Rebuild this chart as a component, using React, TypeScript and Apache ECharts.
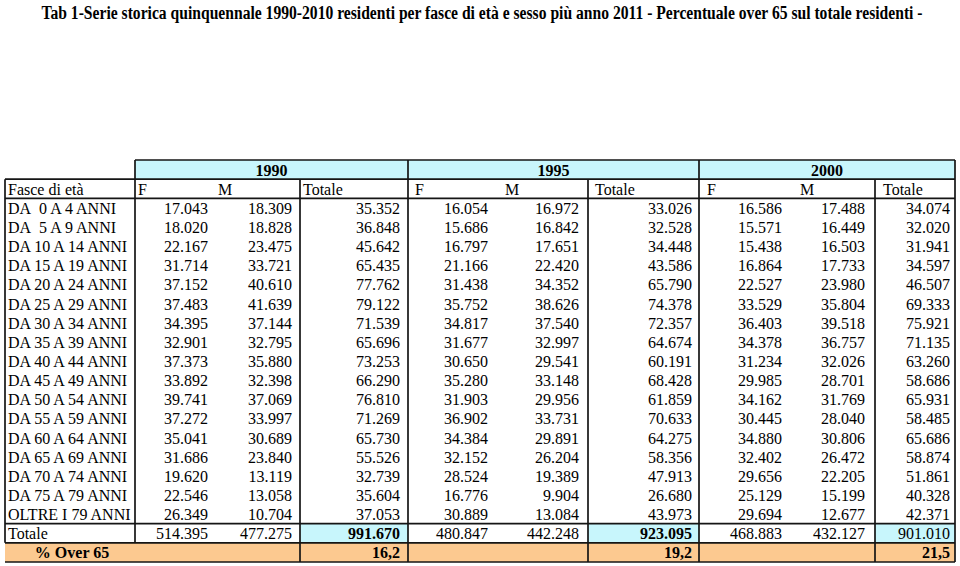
import React, { useEffect, useRef } from "react";
import * as echarts from "echarts";

// ---------- DATA ----------
const TITLE =
  "Tab 1-Serie storica quinquennale 1990-2010 residenti per fasce di età e sesso più anno 2011 - Percentuale over 65 sul totale residenti -";
const years = ["1990", "1995", "2000"];
const subHeaders = ["F", "M", "Totale"];
const firstHeader = "Fasce di età";
const ageGroups = [
  "DA\u00a0 0 A 4 ANNI",
  "DA\u00a0 5 A 9 ANNI",
  "DA 10 A 14 ANNI",
  "DA 15 A 19 ANNI",
  "DA 20 A 24 ANNI",
  "DA 25 A 29 ANNI",
  "DA 30 A 34 ANNI",
  "DA 35 A 39 ANNI",
  "DA 40 A 44 ANNI",
  "DA 45 A 49 ANNI",
  "DA 50 A 54 ANNI",
  "DA 55 A 59 ANNI",
  "DA 60 A 64 ANNI",
  "DA 65 A 69 ANNI",
  "DA 70 A 74 ANNI",
  "DA 75 A 79 ANNI",
  "OLTRE I 79 ANNI",
];
const f1990 = [17043, 18020, 22167, 31714, 37152, 37483, 34395, 32901, 37373, 33892, 39741, 37272, 35041, 31686, 19620, 22546, 26349];
const m1990 = [18309, 18828, 23475, 33721, 40610, 41639, 37144, 32795, 35880, 32398, 37069, 33997, 30689, 23840, 13119, 13058, 10704];
const t1990 = [35352, 36848, 45642, 65435, 77762, 79122, 71539, 65696, 73253, 66290, 76810, 71269, 65730, 55526, 32739, 35604, 37053];
const f1995 = [16054, 15686, 16797, 21166, 31438, 35752, 34817, 31677, 30650, 35280, 31903, 36902, 34384, 32152, 28524, 16776, 30889];
const m1995 = [16972, 16842, 17651, 22420, 34352, 38626, 37540, 32997, 29541, 33148, 29956, 33731, 29891, 26204, 19389, 9904, 13084];
const t1995 = [33026, 32528, 34448, 43586, 65790, 74378, 72357, 64674, 60191, 68428, 61859, 70633, 64275, 58356, 47913, 26680, 43973];
const f2000 = [16586, 15571, 15438, 16864, 22527, 33529, 36403, 34378, 31234, 29985, 34162, 30445, 34880, 32402, 29656, 25129, 29694];
const m2000 = [17488, 16449, 16503, 17733, 23980, 35804, 39518, 36757, 32026, 28701, 31769, 28040, 30806, 26472, 22205, 15199, 12677];
const t2000 = [34074, 32020, 31941, 34597, 46507, 69333, 75921, 71135, 63260, 58686, 65931, 58485, 65686, 58874, 51861, 40328, 42371];
const totalLabel = "Totale";
const totals = [514395, 477275, 991670, 480847, 442248, 923095, 468883, 432127, 901010];
const over65Label = "% Over 65";
const over65 = [16.2, 19.2, 21.5];

// ---------- LAYOUT ----------
const FONT = '"Liberation Serif", "Times New Roman", serif';
const FS = 16;
const CYAN = "#c8f6fc";
const ORANGE = "#fcc990";
const LINE = "#151515";
const X_MIN = 5;
const X_MAX = 955;
const groupEdges = [
  [135, 408],
  [408, 699],
  [699, 955],
];
const valueRight = [208, 292, 400, 488, 579, 692, 782, 865, 950];
const subHeaderX = [
  [138, "left"],
  [225, "center"],
  [303, "left"],
  [415, "left"],
  [512, "center"],
  [595, "left"],
  [707, "left"],
  [807, "center"],
  [883, "left"],
];
const N_ROWS = 21;

const fmtInt = (v: number) => {
  const s = String(Math.round(v));
  return s.replace(/\B(?=(\d{3})+(?!\d))/g, ".");
};
const fmtPct = (v: number) => v.toFixed(1).replace(".", ",");

type Cell = {
  x0: number;
  x1: number;
  r: number;
  text?: string;
  tx?: number;
  align?: string;
  bold?: boolean;
  fill?: string;
};

function buildCells(): Cell[] {
  const cells: Cell[] = [];
  years.forEach((y, i) => {
    const [a, b] = groupEdges[i];
    cells.push({ x0: a, x1: b, r: 0, text: y, tx: (a + b) / 2, align: "center", bold: true, fill: CYAN });
  });
  cells.push({ x0: 5, x1: 135, r: 1, text: firstHeader, tx: 8, align: "left" });
  subHeaderX.forEach(([x, al], i) => {
    cells.push({ x0: x as number, x1: x as number, r: 1, text: subHeaders[i % 3], tx: x as number, align: al as string });
  });
  const cols = [f1990, m1990, t1990, f1995, m1995, t1995, f2000, m2000, t2000];
  ageGroups.forEach((g, ri) => {
    const r = 2 + ri;
    cells.push({ x0: 5, x1: 135, r, text: g, tx: 8, align: "left" });
    cols.forEach((col, ci) => {
      cells.push({ x0: valueRight[ci], x1: valueRight[ci], r, text: fmtInt(col[ri]), tx: valueRight[ci], align: "right" });
    });
  });
  const rt = 2 + ageGroups.length;
  cells.push({ x0: 5, x1: 135, r: rt, text: totalLabel, tx: 8, align: "left" });
  [[300, 408], [588, 699], [875, 955]].forEach(([a, b]) => cells.push({ x0: a, x1: b, r: rt, fill: CYAN }));
  totals.forEach((v, ci) => {
    const isTot = ci % 3 === 2;
    cells.push({
      x0: valueRight[ci],
      x1: valueRight[ci],
      r: rt,
      text: fmtInt(v),
      tx: valueRight[ci],
      align: "right",
      bold: isTot && ci < 8,
    });
  });
  const ro = rt + 1;
  cells.push({ x0: 5, x1: 955, r: ro, fill: ORANGE });
  cells.push({ x0: 5, x1: 135, r: ro, text: over65Label, tx: 72, align: "center", bold: true });
  over65.forEach((v, i) => {
    const ci = i * 3 + 2;
    cells.push({ x0: valueRight[ci], x1: valueRight[ci], r: ro, text: fmtPct(v), tx: valueRight[ci], align: "right", bold: true });
  });
  return cells;
}

function buildLines(): number[][] {
  const L: number[][] = [];
  const last = N_ROWS;
  L.push([135, 0, 955, 0]);
  [1, 2, 19, 20, 21].forEach((e) => L.push([5, e, 955, e]));
  L.push([5, 1, 5, 20]);
  L.push([135, 0, 135, 20]);
  L.push([300, 1, 300, last]);
  L.push([408, 0, 408, last]);
  L.push([588, 1, 588, last]);
  L.push([699, 0, 699, last]);
  L.push([875, 1, 875, last]);
  L.push([955, 0, 955, last]);
  return L;
}

export default function App() {
  const ref = useRef<HTMLDivElement>(null);
  useEffect(() => {
    if (!ref.current) return;
    const chart = echarts.init(ref.current, undefined, { renderer: "svg" });
    const cells = buildCells();
    const lines = buildLines();
    const fillCells = cells.filter((c) => c.fill);
    const textCells = cells.filter((c) => c.text);
    chart.setOption({
      animation: false,
      backgroundColor: "#ffffff",
      graphic: [
        {
          type: "text",
          x: 482,
          y: 13,
          scaleX: 0.868,
          silent: true,
          style: {
            text: TITLE,
            fill: "#000",
            fontFamily: FONT,
            fontWeight: "bold",
            fontSize: 18,
            align: "center",
            verticalAlign: "middle",
          },
        },
      ],
      grid: { left: 5, right: 5, top: 160, bottom: 4, containLabel: false },
      xAxis: { type: "value", min: X_MIN, max: X_MAX, show: false },
      yAxis: { type: "value", min: 0, max: N_ROWS, inverse: true, show: false },
      series: [
        {
          type: "custom",
          silent: true,
          z: 1,
          data: fillCells.map((c, i) => [c.x0, c.r, c.x1, i]),
          renderItem: (params: any, api: any) => {
            const c = fillCells[params.dataIndex];
            const p0 = api.coord([c.x0, c.r]);
            const p1 = api.coord([c.x1, c.r + 1]);
            return {
              type: "rect",
              shape: { x: p0[0], y: p0[1], width: p1[0] - p0[0], height: p1[1] - p0[1] },
              style: { fill: c.fill },
            };
          },
        },
        {
          type: "custom",
          silent: true,
          z: 2,
          data: lines.map((l) => l.slice()),
          renderItem: (params: any, api: any) => {
            const l = lines[params.dataIndex];
            const a = api.coord([l[0], l[1]]);
            const b = api.coord([l[2], l[3]]);
            return {
              type: "line",
              shape: { x1: a[0], y1: a[1], x2: b[0], y2: b[1] },
              style: { stroke: LINE, lineWidth: 1.7 },
            };
          },
        },
        {
          type: "custom",
          silent: true,
          z: 3,
          data: textCells.map((c, i) => [c.tx, c.r, i]),
          renderItem: (params: any, api: any) => {
            const c = textCells[params.dataIndex];
            const p = api.coord([c.tx, c.r + 0.5]);
            return {
              type: "text",
              x: p[0],
              y: p[1] + 0.5,
              style: {
                text: c.text,
                fill: "#000",
                fontFamily: FONT,
                fontSize: FS,
                fontWeight: c.bold ? "bold" : "normal",
                align: c.align,
                verticalAlign: "middle",
              },
            };
          },
        },
      ],
    });
    return () => chart.dispose();
  }, []);
  return (
    <div
      ref={ref}
      style={{ position: "fixed", left: 0, top: 0, width: 960, height: 566, background: "#fff" }}
    />
  );
}
